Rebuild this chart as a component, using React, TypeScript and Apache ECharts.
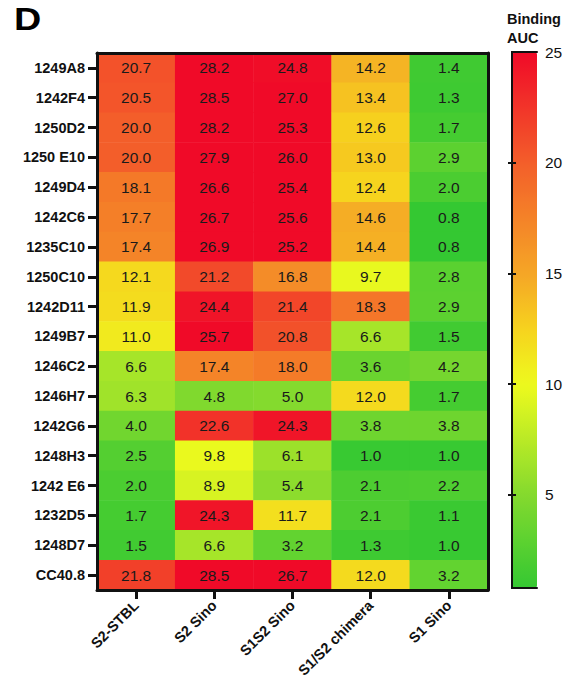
import React, { useEffect, useRef } from "react";
import * as echarts from "echarts";

const rows = [
  "1249A8", "1242F4", "1250D2", "1250 E10", "1249D4", "1242C6", "1235C10",
  "1250C10", "1242D11", "1249B7", "1246C2", "1246H7", "1242G6", "1248H3",
  "1242 E6", "1232D5", "1248D7", "CC40.8",
];
const columns = ["S2-STBL", "S2 Sino", "S1S2 Sino", "S1/S2 chimera", "S1 Sino"];

const s2Stbl = [20.7, 20.5, 20.0, 20.0, 18.1, 17.7, 17.4, 12.1, 11.9, 11.0, 6.6, 6.3, 4.0, 2.5, 2.0, 1.7, 1.5, 21.8];
const s2Sino = [28.2, 28.5, 28.2, 27.9, 26.6, 26.7, 26.9, 21.2, 24.4, 25.7, 17.4, 4.8, 22.6, 9.8, 8.9, 24.3, 6.6, 28.5];
const s1s2Sino = [24.8, 27.0, 25.3, 26.0, 25.4, 25.6, 25.2, 16.8, 21.4, 20.8, 18.0, 5.0, 24.3, 6.1, 5.4, 11.7, 3.2, 26.7];
const chimera = [14.2, 13.4, 12.6, 13.0, 12.4, 14.6, 14.4, 9.7, 18.3, 6.6, 3.6, 12.0, 3.8, 1.0, 2.1, 2.1, 1.3, 12.0];
const s1Sino = [1.4, 1.3, 1.7, 2.9, 2.0, 0.8, 0.8, 2.8, 2.9, 1.5, 4.2, 1.7, 3.8, 1.0, 2.2, 1.1, 1.0, 3.2];

const scaleMin = 0.8;
const scaleMax = 25;
const scaleTicks = [5, 10, 15, 20];
const scaleLabels = [5, 10, 15, 20, 25];

// colour anchors (value, colour) for the gradient
const anchors: [number, string][] = [
  [0.8, "#34c832"],
  [5, "#84da2e"],
  [10, "#eefa1e"],
  [12.5, "#f6d21e"],
  [15, "#f5a626"],
  [20, "#f35e2a"],
  [25, "#f00a28"],
];

function hexToRgb(h: string) {
  const n = parseInt(h.slice(1), 16);
  return [(n >> 16) & 255, (n >> 8) & 255, n & 255];
}
function colorAt(v: number) {
  if (v <= anchors[0][0]) return anchors[0][1];
  for (let i = 1; i < anchors.length; i++) {
    if (v <= anchors[i][0]) {
      const [v0, c0] = anchors[i - 1];
      const [v1, c1] = anchors[i];
      const t = (v - v0) / (v1 - v0);
      const a = hexToRgb(c0), b = hexToRgb(c1);
      const c = a.map((x, k) => Math.round(x + (b[k] - x) * t));
      return `rgb(${c[0]},${c[1]},${c[2]})`;
    }
  }
  return anchors[anchors.length - 1][1];
}
const gradientStops = 48;
const gradient = Array.from({ length: gradientStops + 1 }, (_, k) =>
  colorAt(scaleMin + ((scaleMax - scaleMin) * k) / gradientStops)
);

const FONT = "'Liberation Sans', Arial, Helvetica, sans-serif";

export default function App() {
  const ref = useRef<HTMLDivElement>(null);
  useEffect(() => {
    if (!ref.current) return;
    const chart = echarts.init(ref.current, null, { renderer: "svg" });
    const cols = [s2Stbl, s2Sino, s1s2Sino, chimera, s1Sino];
    const data: [number, number, number][] = [];
    cols.forEach((arr, ci) => arr.forEach((v, ri) => data.push([ci, ri, v])));

    const border = { show: true, lineStyle: { color: "#111", width: 3 } };

    chart.setOption({
      animation: false,
      textStyle: { fontFamily: FONT },
      grid: [
        { left: 97, top: 53, width: 391, height: 537 },
        { left: 512, top: 52, width: 25, height: 536 },
      ],
      xAxis: [
        {
          type: "category",
          gridIndex: 0,
          data: columns,
          position: "bottom",
          z: 10,
          axisLine: border,
          axisTick: { show: true, alignWithLabel: true, length: 9, lineStyle: { color: "#111", width: 3 } },
          axisLabel: {
            rotate: 45,
            margin: 13,
            interval: 0,
            color: "#111",
            fontSize: 14.5,
            fontWeight: "bold",
            fontFamily: FONT,
          },
          splitLine: { show: false },
        },
        {
          type: "category",
          gridIndex: 0,
          data: columns,
          position: "top",
          z: 10,
          axisLine: border,
          axisTick: { show: false },
          axisLabel: { show: false },
        },
        {
          type: "value",
          gridIndex: 1,
          min: 0,
          max: 1,
          position: "bottom",
          z: 10,
          axisLine: { show: true, lineStyle: { color: "#111", width: 2 } },
          axisTick: { show: false },
          axisLabel: { show: false },
          splitLine: { show: false },
        },
        {
          type: "value",
          gridIndex: 1,
          min: 0,
          max: 1,
          position: "top",
          z: 10,
          axisLine: { show: true, lineStyle: { color: "#111", width: 2 } },
          axisTick: { show: false },
          axisLabel: { show: false },
          splitLine: { show: false },
        },
      ],
      yAxis: [
        {
          type: "category",
          gridIndex: 0,
          data: rows,
          inverse: true,
          position: "left",
          z: 10,
          axisLine: border,
          axisTick: { show: true, alignWithLabel: true, length: 9, lineStyle: { color: "#111", width: 3 } },
          axisLabel: {
            margin: 12,
            interval: 0,
            color: "#111",
            fontSize: 14.5,
            fontWeight: "bold",
            fontFamily: FONT,
          },
        },
        {
          type: "category",
          gridIndex: 0,
          data: rows,
          inverse: true,
          position: "right",
          z: 10,
          axisLine: border,
          axisTick: { show: false },
          axisLabel: { show: false },
        },
        {
          type: "value",
          gridIndex: 1,
          min: scaleMin,
          max: scaleMax,
          position: "left",
          z: 10,
          axisLine: { show: true, lineStyle: { color: "#111", width: 2 } },
          axisTick: { show: true, inside: true, length: 4, customValues: scaleTicks, lineStyle: { color: "#111", width: 2 } },
          axisLabel: { show: false },
          splitLine: { show: false },
        },
        {
          type: "value",
          gridIndex: 1,
          min: scaleMin,
          max: scaleMax,
          position: "right",
          z: 10,
          axisLine: { show: true, lineStyle: { color: "#111", width: 2 } },
          axisTick: { show: true, inside: true, length: 4, customValues: scaleTicks, lineStyle: { color: "#111", width: 2 } },
          axisLabel: {
            show: true,
            customValues: scaleLabels,
            margin: 8,
            color: "#111",
            fontSize: 15.5,
            fontFamily: FONT,
          },
          splitLine: { show: false },
        },
      ],
      visualMap: {
        type: "continuous",
        min: scaleMin,
        max: scaleMax,
        seriesIndex: 0,
        dimension: 2,
        calculable: false,
        hoverLink: false,
        orient: "vertical",
        left: 512,
        top: 52,
        itemWidth: 25,
        itemHeight: 536,
        padding: 0,
        showLabel: false,
        inRange: { color: gradient },
      },
      graphic: [
        {
          type: "text",
          left: 14,
          top: 3,
          scaleX: 1.18,
          style: { text: "D", font: `bold 32px ${FONT}`, fill: "#000" },
        },
        {
          type: "text",
          left: 507,
          top: 9,
          style: {
            text: "Binding\nAUC",
            font: `bold 14.5px ${FONT}`,
            fill: "#111",
            lineHeight: 19,
            align: "left",
          },
        },
      ],
      series: [
        {
          type: "heatmap",
          xAxisIndex: 0,
          yAxisIndex: 0,
          data,
          label: {
            show: true,
            color: "#1a1a1a",
            fontSize: 15.5,
            fontFamily: FONT,
            formatter: (p: any) => Number(p.value[2]).toFixed(1),
          },
          itemStyle: { borderWidth: 0 },
          emphasis: { disabled: true },
        },
      ],
    });
    return () => chart.dispose();
  }, []);
  return (
    <div
      ref={ref}
      style={{ position: "fixed", left: 0, top: 0, width: 571, height: 686, background: "#fff" }}
    />
  );
}
